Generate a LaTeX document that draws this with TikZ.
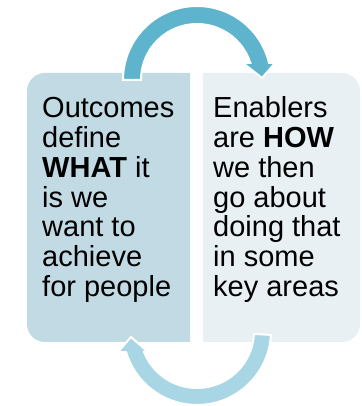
\documentclass[tikz,border=0pt]{standalone}
\usepackage{fontspec}
\setmainfont{Liberation Sans}

\definecolor{outcomesfill}{HTML}{C1DAE3}
\definecolor{enablersfill}{HTML}{E8F0F4}
\definecolor{toparrow}{HTML}{5DB4CC}
\definecolor{bottomarrow}{HTML}{A8D6E4}

\begin{document}
\begin{tikzpicture}[x=1pt, y=1pt,
        boxtext/.style={anchor=base west, align=left, inner sep=0pt,
            font=\fontsize{29}{29.8}\selectfont},
        cyclearrow/.style={draw=white, line width=2}]
            \useasboundingbox (0,0) rectangle (361,406);
            % linke Box:
            \fill[outcomesfill] (190,64) -- (45,64)
                arc[start angle=270, end angle=180, radius=18]
                -- (27,315)
                arc[start angle=180, end angle=90, radius=18]
                -- (190,333) -- cycle;
            % rechte Box:
            \fill[enablersfill] (203,64) -- (342,64)
                arc[start angle=-90, end angle=0, radius=18]
                -- (360,315)
                arc[start angle=0, end angle=90, radius=18]
                -- (203,333) -- cycle;
            % Texte (base = letzte Zeile):
            \node[boxtext] (outcomes) at (42,109.5)
                {Outcomes\\define\\\textbf{WHAT} it\\is we\\want to\\achieve\\for people};
            \node[boxtext] (enablers) at (213,109.5)
                {Enablers\\are \textbf{HOW}\\we then\\go about\\doing that\\in some\\key areas};
            % Pfeile:
            \coordinate (oben) at (197,326);
            \coordinate (unten) at (197,75);
            \begin{scope}[shift={(oben)}]
                \fill[toparrow, cyclearrow] (180:74)
                    arc[start angle=180, end angle=13.3, radius=74]
                    -- (78,17) -- (65,2) -- (46,17) -- (17.7:56)
                    arc[start angle=17.7, end angle=180, radius=56] -- cycle;
            \end{scope}
            \begin{scope}[shift={(unten)}]
                \fill[bottomarrow, cyclearrow] (-3:74)
                    arc[start angle=-3, end angle=-163.5, radius=74]
                    -- (-79,-21) -- (-66,-6) -- (-49,-21) -- (-158.4:57)
                    arc[start angle=-158.4, end angle=-3, radius=57] -- cycle;
            \end{scope}
\end{tikzpicture}
\end{document}
